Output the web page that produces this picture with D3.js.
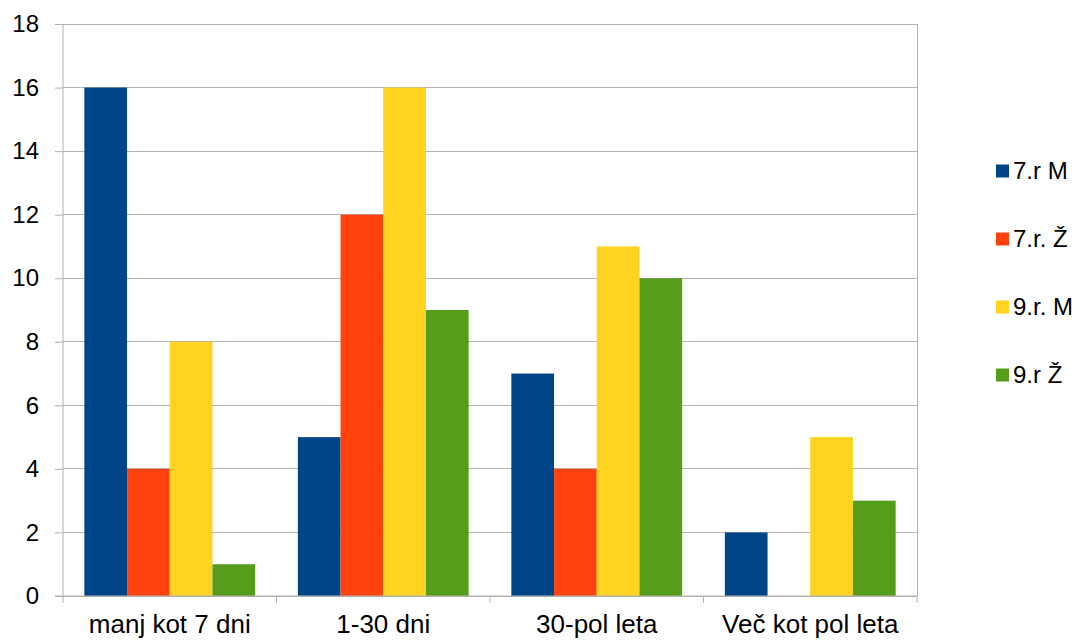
<!DOCTYPE html>
<html><head><meta charset="utf-8">
<script src="https://cdn.jsdelivr.net/npm/d3@7"></script>
<style>body{margin:0;background:#fff}svg{display:block}text{font-family:"Liberation Sans",Arial,sans-serif;fill:#000}</style>
</head><body><svg id="c" width="1079" height="640"></svg>
<script>
const categories = ["manj kot 7 dni","1-30 dni","30-pol leta","Več kot pol leta"];
const seriesNames = ["7.r M","7.r. Ž","9.r. M","9.r Ž"];
const s7M = [16,5,7,2];
const s7Z = [4,12,4,0];
const s9M = [8,16,11,5];
const s9Z = [1,9,10,3];
const yTicks = [0,2,4,6,8,10,12,14,16,18];
const colors = ["#004586","#ff420e","#ffd320","#579d1c"];
const seriesVals = [s7M,s7Z,s9M,s9Z];

const svg = d3.select("#c");
const L=63, R=917, T=24, B=596;
const x = d3.scaleBand().domain(categories).range([L,R]).paddingInner(0.2).paddingOuter(0.1);
const xOuter = d3.scaleBand().domain(categories).range([L,R]);
const xs = d3.scaleBand().domain(seriesNames).range([0,x.bandwidth()]);
const y = d3.scaleLinear().domain([0,18]).range([B,T]);

// grid
svg.append("g").selectAll("line").data(yTicks).join("line")
  .attr("x1",L).attr("x2",R).attr("y1",d=>y(d)).attr("y2",d=>y(d))
  .attr("stroke","#b3b3b3").attr("stroke-width",1).attr("shape-rendering","crispEdges");
svg.append("line").attr("x1",R).attr("x2",R).attr("y1",T).attr("y2",B)
  .attr("stroke","#b3b3b3").attr("shape-rendering","crispEdges");

// bars
seriesNames.forEach((s,i)=>{
  svg.append("g").selectAll("rect").data(categories).join("rect")
    .attr("x",c=>x(c)+xs(s)).attr("width",xs.bandwidth())
    .attr("y",(c,j)=>y(seriesVals[i][j])).attr("height",(c,j)=>B-y(seriesVals[i][j]))
    .attr("fill",colors[i]);
});

// y axis
const ya = d3.axisLeft(y).tickValues(yTicks).tickSize(8).tickPadding(16);
const gy = svg.append("g").attr("transform",`translate(${L},0)`).call(ya);
gy.selectAll("line").attr("stroke","#b3b3b3");
gy.select(".domain").attr("stroke","#b3b3b3").attr("d",`M0,${T}V${B}`);
gy.selectAll("text").attr("font-size",24).attr("font-family","Liberation Sans, Arial, sans-serif").attr("fill","#000");

// x axis
const xa = d3.axisBottom(xOuter).tickSize(0).tickPadding(19);
const gx = svg.append("g").attr("transform",`translate(0,${B})`).call(xa);
gx.select(".domain").attr("stroke","#b3b3b3").attr("d",`M${L-8},0H${R}`);
gx.selectAll("text").attr("font-size",26).attr("font-family","Liberation Sans, Arial, sans-serif").attr("fill","#000");
const bounds = categories.map(c=>xOuter(c)).concat([R]);
gx.append("g").selectAll("line").data(bounds).join("line")
  .attr("x1",d=>d).attr("x2",d=>d).attr("y1",0).attr("y2",7).attr("stroke","#b3b3b3");

// legend
const lg = svg.append("g").selectAll("g").data(seriesNames).join("g")
  .attr("transform",(d,i)=>`translate(996,${171+i*68})`);
lg.append("rect").attr("x",0).attr("y",-6.5).attr("width",13).attr("height",13).attr("fill",(d,i)=>colors[i]);
lg.append("text").attr("x",17).attr("y",0).attr("dy","0.35em").attr("font-size",24).text(d=>d);
</script></body></html>
